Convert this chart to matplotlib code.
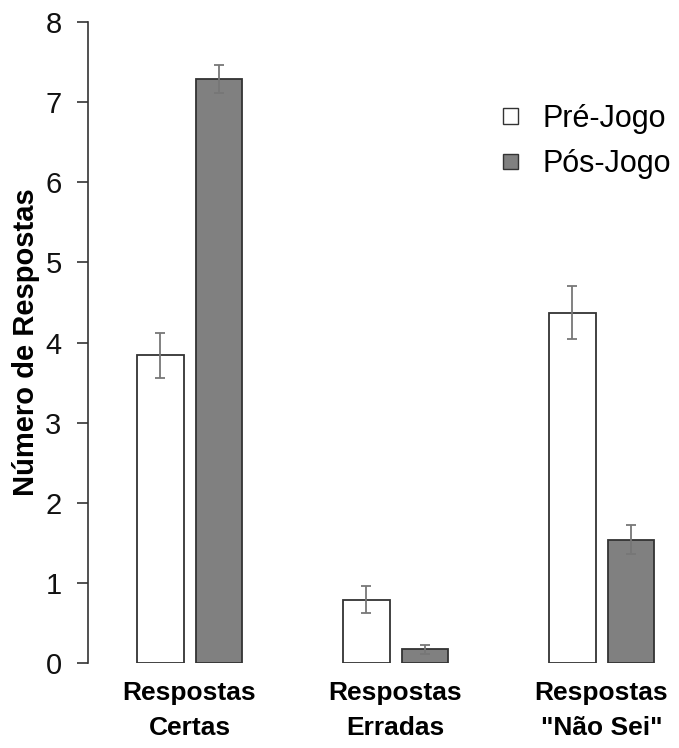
import matplotlib
matplotlib.use("Agg")
import matplotlib.pyplot as plt
from matplotlib.patches import Patch
import numpy as np

plt.rcParams['font.family'] = ['Liberation Sans', 'DejaVu Sans']

categories = ['Respostas\nCertas', 'Respostas\nErradas', 'Respostas\n"N\u00e3o Sei"']
series_names = ['Pr\u00e9-Jogo', 'P\u00f3s-Jogo']
pre_values = [3.84, 0.79, 4.37]
pre_errors = [0.28, 0.17, 0.33]
post_values = [7.29, 0.17, 1.54]
post_errors = [0.17, 0.06, 0.18]
y_ticks = [0, 1, 2, 3, 4, 5, 6, 7, 8]

W, H = 679, 748
fig = plt.figure(figsize=(W / 100, H / 100), dpi=100)
ax = fig.add_axes([88 / W, (H - 663) / H, (W - 88) / W, 641 / H])

x = np.arange(len(categories))
width = 0.228
offset = 0.143
edge = '#333333'
ekw = dict(ecolor='#777777', elinewidth=1.3, capsize=3.3, capthick=1.3)

ax.bar(x - offset, pre_values, width, color='white', edgecolor=edge, linewidth=1.3,
       yerr=pre_errors, error_kw=ekw, label=series_names[0], zorder=2)
ax.bar(x + offset, post_values, width, color='#808080', edgecolor=edge, linewidth=1.3,
       yerr=post_errors, error_kw=ekw, label=series_names[1], zorder=2)

ax.set_ylim(0, 8)
ax.set_xlim(-0.493, 2.376)
ax.set_yticks(y_ticks)
ax.set_yticklabels([str(t) for t in y_ticks], fontsize=21, color='#111111')
ax.tick_params(axis='y', length=8, width=1.2, color='#333333', pad=11)
ax.set_xticks(x)
ax.set_xticklabels(categories, fontsize=19, fontweight='bold', linespacing=1.6)
ax.tick_params(axis='x', length=0, pad=13)

for s in ['top', 'right', 'bottom']:
    ax.spines[s].set_visible(False)
ax.spines['left'].set_color('#333333')
ax.spines['left'].set_linewidth(1.2)

ax.set_ylabel('N\u00famero de Respostas', fontsize=21, fontweight='bold', labelpad=4)

handles = [Patch(facecolor='white', edgecolor=edge, linewidth=1.0),
           Patch(facecolor='#808080', edgecolor=edge, linewidth=1.0)]
leg = ax.legend(handles, series_names, loc='upper left',
                bbox_to_anchor=(503 / W, (H - 104) / H), bbox_transform=fig.transFigure,
                frameon=False, fontsize=22, handlelength=0.5, handleheight=0.4,
                handletextpad=0.8, labelspacing=0.5, borderpad=0, borderaxespad=0)

fig.savefig('out.png', dpi=100)
